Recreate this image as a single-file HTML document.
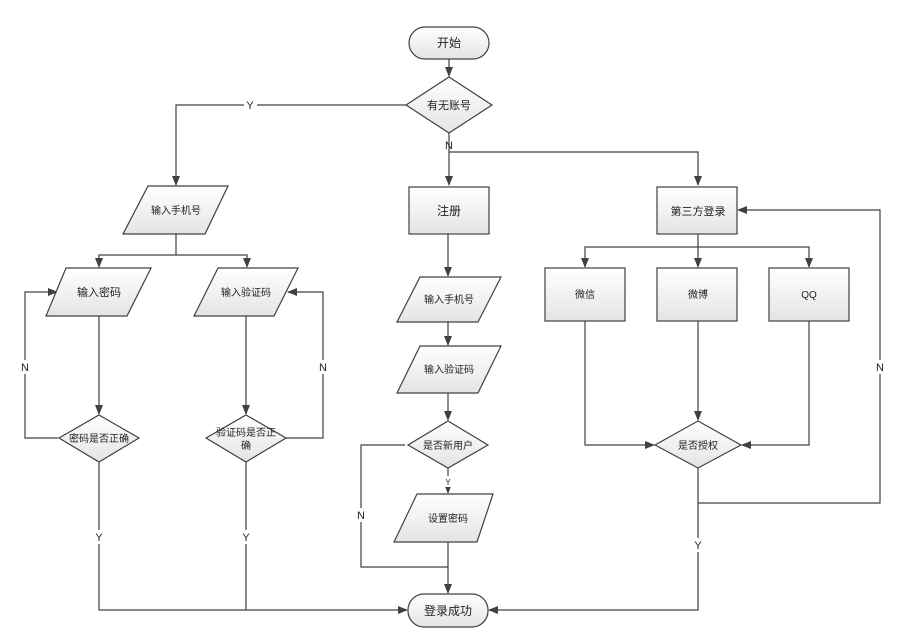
<!DOCTYPE html>
<html><head><meta charset="utf-8"><style>body{margin:0;background:#fff}svg{display:block}</style></head><body>
<svg width="902" height="640" viewBox="0 0 902 640" xmlns="http://www.w3.org/2000/svg" font-family="Liberation Sans, Noto Sans CJK SC, sans-serif">
<defs>
<linearGradient id="g" x1="0" y1="0" x2="0" y2="1"><stop offset="0" stop-color="#ffffff"/><stop offset="1" stop-color="#e4e4e4"/></linearGradient>
<marker id="a" markerWidth="10" markerHeight="10" refX="9" refY="5" orient="auto" markerUnits="userSpaceOnUse"><path d="M0,1 L10,5 L0,9 z" fill="#404040"/></marker>
</defs>
<g fill="none" stroke="#404040" stroke-width="1.2">
<path d="M449,59 V76" marker-end="url(#a)"/>
<path d="M406,105 H176 V185" marker-end="url(#a)"/>
<path d="M449,133 V152 H698 V185" marker-end="url(#a)"/>
<path d="M449,152 V185" marker-end="url(#a)"/>
<path d="M176,234 V255 H99 V267" marker-end="url(#a)"/>
<path d="M176,255 H247 V267" marker-end="url(#a)"/>
<path d="M99,316 V414" marker-end="url(#a)"/>
<path d="M246,316 V414" marker-end="url(#a)"/>
<path d="M58,438 H25 V292 H57" marker-end="url(#a)"/>
<path d="M286,438 H323 V292 H288" marker-end="url(#a)"/>
<path d="M99,462 V610 H407" marker-end="url(#a)"/>
<path d="M246,462 V610"/>
<path d="M448,234 V276" marker-end="url(#a)"/>
<path d="M448,322 V345" marker-end="url(#a)"/>
<path d="M448,393 V420" marker-end="url(#a)"/>
<path d="M448,468 V493" marker-end="url(#a)"/>
<path d="M405,445 H361 V567 H448"/>
<path d="M448,542 V593" marker-end="url(#a)"/>
<path d="M698,234 V247 H585 V267" marker-end="url(#a)"/>
<path d="M698,247 V267" marker-end="url(#a)"/>
<path d="M698,247 H809 V267" marker-end="url(#a)"/>
<path d="M585,321 V445 H654" marker-end="url(#a)"/>
<path d="M698,321 V420" marker-end="url(#a)"/>
<path d="M809,321 V445 H742" marker-end="url(#a)"/>
<path d="M698,468 V503 H880 V210 H738" marker-end="url(#a)"/>
<path d="M698,503 V610 H489" marker-end="url(#a)"/>
</g>
<g fill="url(#g)" stroke="#404040" stroke-width="1.2">
<rect x="409" y="27" width="80" height="32" rx="16"/>
<path d="M449,77 L492,105 L449,133 L406,105 z"/>
<path d="M148,186 H228 L205,234 H123 z"/>
<path d="M66,268 H151 L127,316 H46 z"/>
<path d="M218,268 H298 L274,316 H194 z"/>
<path d="M99,415 L139,438 L99,462 L59,438 z"/>
<path d="M246,415 L286,438 L246,462 L206,438 z"/>
<rect x="409" y="187" width="80" height="47"/>
<path d="M420,277 H501 L478,322 H397 z"/>
<path d="M420,346 H501 L478,393 H397 z"/>
<path d="M448,421 L488,445 L448,468 L408,445 z"/>
<path d="M417,494 H493 L477,542 H394 z"/>
<rect x="408" y="594" width="80" height="33" rx="16"/>
<rect x="657" y="187" width="80" height="47"/>
<rect x="545" y="268" width="80" height="53"/>
<rect x="657" y="268" width="80" height="53"/>
<rect x="769" y="268" width="80" height="53"/>
<path d="M698,421 L741,445 L698,468 L655,445 z"/>
</g>
<g font-size="10" fill="#222" text-anchor="middle">
<text x="449" y="47" font-size="12">开始</text>
<text x="449" y="109" font-size="11">有无账号</text>
<text x="176" y="214">输入手机号</text>
<text x="99" y="296" font-size="11">输入密码</text>
<text x="246" y="296">输入验证码</text>
<text x="99" y="442">密码是否正确</text>
<text x="246" y="436">验证码是否正</text>
<text x="246" y="449">确</text>
<text x="449" y="215" font-size="12">注册</text>
<text x="449" y="303">输入手机号</text>
<text x="449" y="373">输入验证码</text>
<text x="448" y="449">是否新用户</text>
<text x="448" y="522">设置密码</text>
<text x="448" y="615" font-size="12">登录成功</text>
<text x="698" y="215" font-size="11">第三方登录</text>
<text x="585" y="298">微信</text>
<text x="698" y="298">微博</text>
<text x="809" y="298">QQ</text>
<text x="698" y="449">是否授权</text>
</g>
<g font-size="11" fill="#222" text-anchor="middle">
<rect x="244" y="98" width="13" height="13" fill="#fff"/><text x="250" y="109">Y</text>
<text x="449" y="149">N</text>
<rect x="19" y="360" width="13" height="14" fill="#fff"/><text x="25" y="371">N</text>
<rect x="317" y="360" width="13" height="14" fill="#fff"/><text x="323" y="371">N</text>
<rect x="93" y="530" width="13" height="14" fill="#fff"/><text x="99" y="541">Y</text>
<rect x="240" y="530" width="13" height="14" fill="#fff"/><text x="246" y="541">Y</text>
<rect x="443" y="476" width="11" height="11" fill="#fff"/><text x="448" y="485" font-size="8">Y</text>
<rect x="355" y="508" width="13" height="14" fill="#fff"/><text x="361" y="519">N</text>
<rect x="874" y="360" width="13" height="14" fill="#fff"/><text x="880" y="371">N</text>
<rect x="692" y="538" width="13" height="14" fill="#fff"/><text x="698" y="549">Y</text>
</g>
</svg>
</body></html>
